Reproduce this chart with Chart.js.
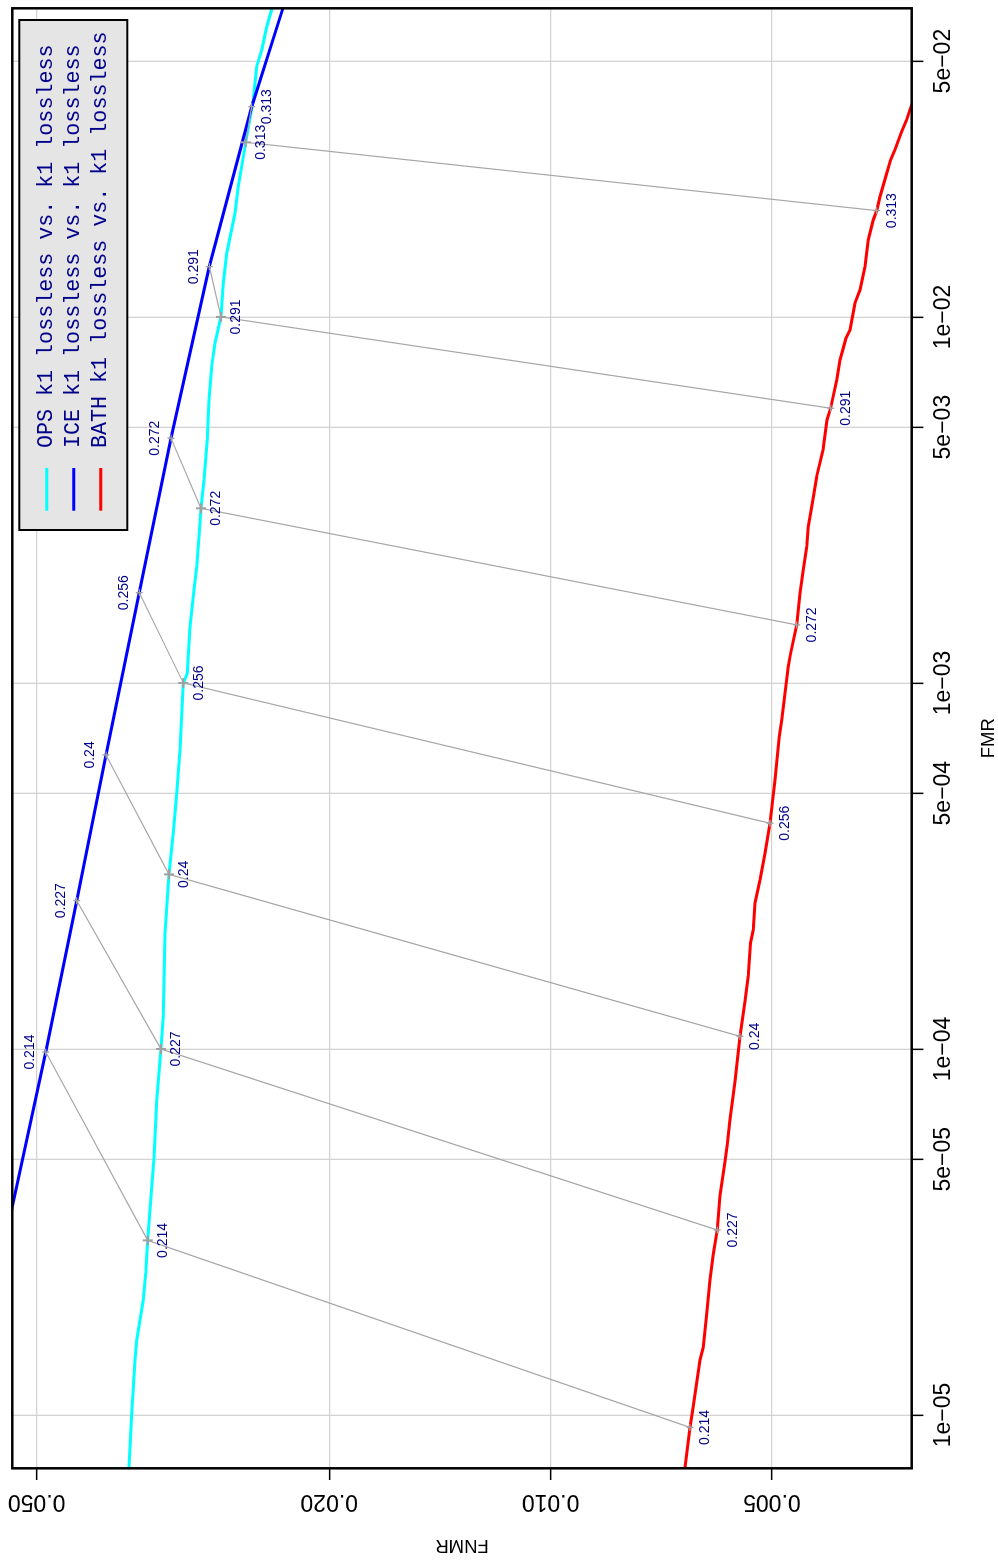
<!DOCTYPE html>
<html>
<head>
<meta charset="utf-8">
<title>DET k1 lossless</title>
<script src="https://cdn.jsdelivr.net/npm/chart.js@4.4.1/dist/chart.umd.min.js"></script>
<style>
  html, body { margin: 0; padding: 0; background: #fff; overflow: hidden; }
  /* the R plot is stored turned a quarter left, so draw it upright and turn the box */
  #wrap { position: absolute; left: 0; top: 0; width: 1560px; height: 998px;
          transform-origin: 0 0; transform: translate(0, 1560px) rotate(-90deg); }
</style>
</head>
<body>
<div id="wrap"><canvas id="det" width="1560" height="998"></canvas></div>
<script>
// DET curves (FMR vs FNMR)
const opsFmr = [6.644e-6, 7.223e-6, 1.011e-5, 1.414e-5, 1.603e-5, 2.062e-5, 2.443e-5, 3.020e-5, 4.205e-5, 5.037e-5,
  7.255e-5, 1.004e-4, 1.225e-4, 2.071e-4, 3.007e-4, 3.885e-4, 4.996e-4, 6.561e-4, 9.981e-4, 1.063e-3,
  1.425e-3, 1.795e-3, 2.079e-3, 2.565e-3, 3.001e-3, 3.586e-3, 4.612e-3, 5.932e-3, 7.315e-3, 8.478e-3,
  1.002e-2, 1.236e-2, 1.493e-2, 1.921e-2, 2.270e-2, 2.983e-2, 3.915e-2, 4.830e-2, 5.364e-2, 6.211e-2,
  6.929e-2, 7.347e-2];
const opsFnmr = [0.03751, 0.03745, 0.03713, 0.03675, 0.03656, 0.03581, 0.03554, 0.03532, 0.03488, 0.03463,
  0.03434, 0.03388, 0.03363, 0.03346, 0.03304, 0.03260, 0.03225, 0.03192, 0.03159, 0.03120,
  0.03094, 0.03055, 0.03029, 0.03005, 0.02989, 0.02961, 0.02931, 0.02915, 0.02891, 0.02861,
  0.02808, 0.02788, 0.02758, 0.02687, 0.02660, 0.02599, 0.02537, 0.02511, 0.02471, 0.02433,
  0.02395, 0.02378];

const iceFmr = [2.914e-5, 9.81e-5, 2.542e-4, 6.358e-4, 1.765e-3, 4.663e-3, 1.372e-2, 3.755e-2, 7.581e-2];
const iceFnmr = [0.05539, 0.04861, 0.04411, 0.04024, 0.03626, 0.03283, 0.02912, 0.02550, 0.02282];

const bathFmr = [6.644e-6, 7.187e-6, 9.250e-6, 1.056e-5, 1.414e-5, 1.531e-5, 1.894e-5, 2.343e-5, 2.747e-5, 3.202e-5,
  3.981e-5, 4.924e-5, 5.476e-5, 6.422e-5, 8.153e-5, 1.083e-4, 1.350e-4, 1.583e-4, 1.949e-4, 2.115e-4, 2.506e-4,
  2.896e-4, 3.425e-4, 4.137e-4, 5.431e-4, 7.134e-4, 7.923e-4, 9.373e-4, 1.108e-3, 1.205e-3, 1.441e-3,
  1.758e-3, 2.036e-3, 2.357e-3, 2.674e-3, 3.032e-3, 3.662e-3, 4.330e-3, 5.231e-3, 5.631e-3, 6.728e-3,
  7.629e-3, 8.746e-3, 9.215e-3, 1.090e-2, 1.185e-2, 1.372e-2, 1.624e-2, 1.841e-2, 1.952e-2, 2.132e-2,
  2.470e-2, 2.686e-2, 2.860e-2, 3.208e-2, 3.454e-2, 3.678e-2, 4.224e-2];
const bathFnmr = [0.006587, 0.006566, 0.006464, 0.006397, 0.006265, 0.006200, 0.006135, 0.006072, 0.006009, 0.005934,
  0.005884, 0.005793, 0.005751, 0.005703, 0.005614, 0.005527, 0.005441, 0.005385, 0.005348, 0.005302, 0.005273,
  0.005191, 0.005111, 0.005031, 0.004953, 0.004887, 0.004850, 0.004800, 0.004751, 0.004716, 0.004628,
  0.004580, 0.004533, 0.004485, 0.004463, 0.004415, 0.004347, 0.004262, 0.004209, 0.004161, 0.004083,
  0.004041, 0.003966, 0.003916, 0.003856, 0.003796, 0.003737, 0.003698, 0.003641, 0.003602, 0.003565,
  0.003491, 0.003448, 0.003402, 0.003331, 0.003279, 0.003246, 0.003165];

// score thresholds marked on each curve (ICE -> OPS -> BATH)
const thresholds = ['0.214', '0.227', '0.24', '0.256', '0.272', '0.291', '0.313'];
const iceThrFmr = [9.81e-5, 2.542e-4, 6.358e-4, 1.765e-3, 4.663e-3, 1.372e-2, 3.755e-2];
const iceThrFnmr = [0.04861, 0.04411, 0.04024, 0.03626, 0.03283, 0.02912, 0.02550];
const opsThrFmr = [3e-5, 1e-4, 3e-4, 1e-3, 3e-3, 1e-2, 3e-2];
const opsThrFnmr = [0.03532, 0.03388, 0.03304, 0.03159, 0.02989, 0.02808, 0.02599];
const bathThrFmr = [9.25e-6, 3.202e-5, 1.083e-4, 4.137e-4, 1.441e-3, 5.631e-3, 1.952e-2];
const bathThrFnmr = [0.006464, 0.005934, 0.005527, 0.005031, 0.004628, 0.004161, 0.003602];

// axes
const fmrTicks = [1e-5, 5e-5, 1e-4, 5e-4, 1e-3, 5e-3, 1e-2, 5e-2];
const fmrTickLabels = ['1e\u221205', '5e\u221205', '1e\u221204', '5e\u221204', '1e\u221203', '5e\u221203', '1e\u221202', '5e\u221202'];
const fnmrTicks = [0.005, 0.01, 0.02, 0.05];
const fnmrTickLabels = ['0.005', '0.010', '0.020', '0.050'];
const fmrRange = [7.152e-6, 0.0697];
const fnmrRange = [0.003228, 0.05397];

const pts = (xs, ys) => xs.map((x, i) => ({ x: x, y: ys[i] }));

const curves = [
  { label: 'OPS k1 lossless vs. k1 lossless', data: pts(opsFmr, opsFnmr), borderColor: '#00ffff', order: 3 },
  { label: 'ICE k1 lossless vs. k1 lossless', data: pts(iceFmr, iceFnmr), borderColor: '#0000ff', order: 2 },
  { label: 'BATH k1 lossless vs. k1 lossless', data: pts(bathFmr, bathFnmr), borderColor: '#ff0000', order: 1 }
].map(d => Object.assign(d, {
  inLegend: true, showLine: true, borderWidth: 3, pointRadius: 0, clip: 0
}));

const thrSets = thresholds.map((t, i) => ({
  thr: t,
  data: [
    { x: iceThrFmr[i], y: iceThrFnmr[i] },
    { x: opsThrFmr[i], y: opsThrFnmr[i] },
    { x: bathThrFmr[i], y: bathThrFnmr[i] }
  ],
  showLine: true,
  borderColor: '#a6a6a6',
  borderWidth: 1.2,
  pointStyle: 'cross',
  pointRadius: [3.5, 5, 3.5],
  pointBorderWidth: [1.3, 2, 1.3],
  pointBorderColor: '#a0a0a0',
  order: 0
}));

// the ICE number sits on the far side of the cross, except for the last one
const iceLabelAbove = [true, true, true, true, true, true, false];

// threshold numbers next to each cross
const thrLabels = {
  id: 'thrLabels',
  afterDatasetsDraw(chart) {
    const ctx = chart.ctx;
    ctx.save();
    ctx.font = '14px "Liberation Sans", Arial, sans-serif';
    ctx.fillStyle = '#00008b';
    ctx.textAlign = 'center';
    ctx.textBaseline = 'middle';
    let k = 0;
    chart.data.datasets.forEach((ds, i) => {
      if (!ds.thr) return;
      const above = iceLabelAbove[k++];
      chart.getDatasetMeta(i).data.forEach((p, j) => {
        const up = j === 0 && above;
        ctx.fillText(ds.thr, p.x, p.y + (up ? -15.5 : 15.5));
      });
    });
    ctx.restore();
  }
};

// R style legend box in the upper right corner
const legendBox = {
  id: 'legendBox',
  afterDraw(chart) {
    const { ctx, chartArea: a } = chart;
    const items = chart.data.datasets.filter(d => d.inLegend);
    const w = 510, h = 108;
    const x0 = a.right - 11.7 - w, y0 = a.top + 7;
    ctx.save();
    ctx.fillStyle = '#e5e5e5';
    ctx.fillRect(x0, y0, w, h);
    ctx.lineWidth = 2;
    ctx.strokeStyle = '#000';
    ctx.strokeRect(x0, y0, w, h);
    ctx.font = '21.7px "Liberation Mono", "Courier New", monospace';
    ctx.textBaseline = 'middle';
    items.forEach((d, i) => {
      const yy = y0 + 27.4 + i * 27;
      ctx.strokeStyle = d.borderColor;
      ctx.lineWidth = 3;
      ctx.beginPath();
      ctx.moveTo(x0 + 19.3, yy);
      ctx.lineTo(x0 + 62, yy);
      ctx.stroke();
      ctx.fillStyle = '#00008b';
      ctx.fillText(d.label, x0 + 82, yy);
    });
    ctx.restore();
  }
};

// box round the plot
const frame = {
  id: 'frame',
  afterDraw(chart) {
    const { ctx, chartArea: a } = chart;
    ctx.save();
    ctx.lineWidth = 2.5;
    ctx.strokeStyle = '#000';
    ctx.strokeRect(a.left, a.top, a.right - a.left, a.bottom - a.top);
    ctx.restore();
  }
};

const tickFont = { family: '"Liberation Sans", Arial, sans-serif', size: 23, lineHeight: 1 };
const titleFont = { family: '"Liberation Sans", Arial, sans-serif', size: 18.5, lineHeight: 1 };
const grid = { color: '#d3d3d3', lineWidth: 1.3, tickColor: '#000', tickWidth: 1.5, tickLength: 11.7 };

new Chart(document.getElementById('det'), {
  type: 'scatter',
  data: { datasets: thrSets.concat(curves) },
  options: {
    responsive: false,
    devicePixelRatio: 1,
    animation: false,
    layout: { padding: { top: 12.3, right: 8.3, left: 0, bottom: 0 } },
    plugins: { legend: { display: false }, tooltip: { enabled: false } },
    scales: {
      x: {
        type: 'logarithmic',
        position: 'bottom',
        min: fmrRange[0],
        max: fmrRange[1],
        afterBuildTicks: s => { s.ticks = fmrTicks.map(v => ({ value: v })); },
        afterFit: s => { s.height = 86.3; },
        grid: grid,
        border: { display: false },
        ticks: {
          autoSkip: false, maxRotation: 0, padding: 9, color: '#000', font: tickFont,
          callback: (v, i) => fmrTickLabels[i]
        },
        title: { display: true, text: 'FMR', color: '#000', font: titleFont, padding: { top: 0, bottom: 0 } }
      },
      y: {
        type: 'logarithmic',
        position: 'left',
        min: fnmrRange[0],
        max: fnmrRange[1],
        afterBuildTicks: s => { s.ticks = fnmrTicks.map(v => ({ value: v })); },
        afterFit: s => { s.width = 91.7; },
        grid: grid,
        border: { display: false },
        ticks: {
          autoSkip: false, minRotation: 90, maxRotation: 90, crossAlign: 'center', padding: -7,
          color: '#000', font: tickFont,
          callback: (v, i) => fnmrTickLabels[i]
        },
        title: { display: true, text: 'FNMR', color: '#000', font: titleFont, padding: { top: 5.75, bottom: 0 } }
      }
    }
  },
  plugins: [thrLabels, legendBox, frame]
});
</script>
</body>
</html>
